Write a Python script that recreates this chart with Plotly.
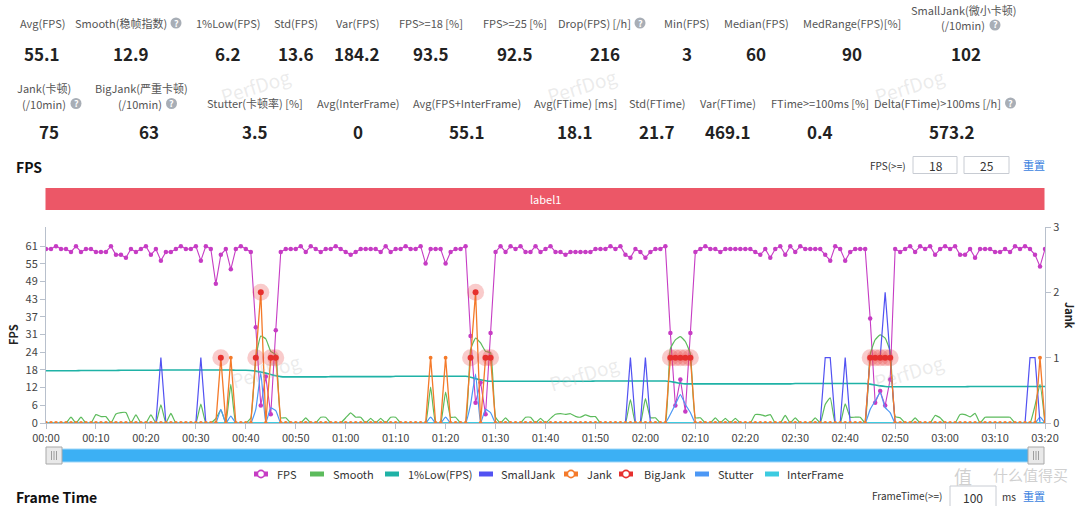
import plotly.graph_objects as go

# ---------------- data ----------------
seconds = list(range(201))
x_tick_vals = [0, 10, 20, 30, 40, 50, 60, 70, 80, 90, 100, 110, 120, 130, 140, 150, 160, 170, 180, 190, 200]
x_tick_labels = ["00:00", "00:10", "00:20", "00:30", "00:40", "00:50", "01:00", "01:10", "01:20", "01:30",
                 "01:40", "01:50", "02:00", "02:10", "02:20", "02:30", "02:40", "02:50", "03:00", "03:10", "03:20"]
fps_tick_vals = [0, 6.1, 12.2, 18.3, 24.4, 30.5, 36.6, 42.7, 48.8, 54.9, 61]
fps_tick_labels = ["0", "6", "12", "18", "24", "31", "37", "43", "49", "55", "61"]
jank_tick_vals = [0, 1, 2, 3]

fps = [60, 60, 61, 60, 60, 59, 61, 59, 60, 60,
       59, 59, 59, 61, 58, 58, 57, 60, 59, 60,
       61, 58, 60, 56, 59, 59, 60, 61, 60, 60,
       61, 56, 61, 60, 48, 58, 60, 53, 60, 61,
       60, 59, 33, 6, 16, 3, 32, 59, 60, 60,
       60, 61, 59, 61, 60, 59, 60, 60, 61, 60,
       59, 58, 59, 60, 60, 60, 60, 59, 61, 59,
       60, 60, 61, 60, 60, 61, 55, 60, 60, 60,
       55, 59, 60, 60, 61, 30, 7, 14, 3, 31,
       59, 61, 59, 61, 60, 61, 59, 59, 61, 59,
       60, 61, 59, 59, 58, 59, 59, 59, 59, 59,
       60, 60, 60, 61, 60, 61, 58, 57, 60, 59,
       57, 59, 60, 60, 61, 31, 6, 15, 4, 31,
       59, 60, 61, 60, 60, 59, 60, 60, 60, 60,
       60, 60, 59, 58, 60, 57, 60, 61, 58, 61,
       59, 61, 60, 60, 60, 60, 58, 56, 61, 60,
       56, 59, 60, 60, 60, 36, 7, 11, 6, 15,
       60, 59, 60, 61, 59, 61, 60, 61, 58, 60,
       61, 60, 61, 58, 58, 60, 57, 60, 60, 60,
       59, 59, 60, 59, 61, 60, 61, 60, 58, 54, 60]

smooth = [0, 0, 0, 0, 0, 2, 0, 2, 0, 0,
          2.9, 2.2, 2.2, 0, 3.1, 3.6, 3.6, 0, 2.8, 0,
          0, 2.8, 0, 6.3, 0, 3.3, 0, 0, 0, 0,
          0, 6.5, 0, 0, 1.5, 4.5, 0, 13.3, 0, 0,
          0, 1.7, 22.5, 30, 29, 24.7, 23.6, 1.8, 1.8, 0,
          0, 0, 1.8, 0, 0, 2, 2, 0, 0, 0,
          1.8, 3.5, 2, 2, 0, 1.6, 0, 1.6, 0, 2,
          2, 0, 0, 0, 0, 0, 0, 12.4, 0, 0,
          10.7, 2, 2, 0, 0, 25.3, 29.3, 27.6, 24.7, 24.2,
          2, 0, 1.8, 0, 0, 0, 2, 2, 0, 1.6,
          0, 1.6, 3, 3.2, 3, 3.2, 2.3, 2, 2.8, 2.2,
          2.2, 0, 0, 0, 0, 0, 0, 8.1, 0, 0,
          8.4, 1.8, 1.8, 0, 0, 25.6, 28.7, 29.8, 28.1, 23.8,
          1.8, 1.8, 0, 0, 1.8, 0, 1.6, 0, 1.6, 0,
          0, 0, 2.9, 2.9, 2.4, 2.9, 0, 0, 2.6, 0,
          1.8, 0, 0, 0, 1.8, 0, 6.4, 8.7, 0, 0,
          6.6, 2, 2, 2, 0, 23.6, 28.7, 30.4, 29.3, 24.7,
          2.2, 1.8, 0, 0, 1.8, 0, 0, 0, 2.6, 1.8,
          0, 0, 0, 2.9, 2.9, 2.1, 3.3, 0, 2, 2,
          2, 2, 2, 2, 0, 0, 0, 0, 6, 13.3, 0]

low1 = [18.0, 18.0, 18.0, 18.0, 18.0, 18.0, 18.0, 18.1, 18.1, 18.1,
        18.1, 18.1, 18.1, 18.1, 18.1, 18.2, 18.2, 18.2, 18.2, 18.2,
        18.2, 18.2, 18.2, 18.3, 18.3, 18.3, 18.3, 18.3, 18.3, 18.3,
        18.3, 18.3, 18.3, 18.3, 18.3, 18.3, 18.3, 18.3, 18.2, 18.2,
        18.2, 18.1, 17.9, 17.6, 17.2, 16.7, 16.3, 16.0, 15.9, 15.9,
        15.9, 15.9, 15.9, 15.9, 15.9, 15.9, 15.9, 16.0, 16.0, 16.0,
        16.0, 16.0, 16.0, 16.0, 16.0, 16.0, 16.0, 16.0, 16.0, 16.0,
        16.1, 16.1, 16.1, 16.1, 16.1, 16.1, 16.1, 16.1, 16.1, 16.1,
        16.1, 16.1, 16.1, 16.1, 16.1, 15.8, 15.3, 14.9, 14.6, 14.4,
        14.4, 14.4, 14.4, 14.4, 14.4, 14.4, 14.4, 14.4, 14.4, 14.4,
        14.4, 14.4, 14.4, 14.4, 14.4, 14.4, 14.4, 14.4, 14.4, 14.4,
        14.5, 14.5, 14.5, 14.5, 14.5, 14.5, 14.5, 14.5, 14.5, 14.5,
        14.5, 14.5, 14.5, 14.5, 14.5, 14.3, 14.0, 13.7, 13.5, 13.5,
        13.5, 13.5, 13.5, 13.5, 13.5, 13.5, 13.5, 13.5, 13.5, 13.5,
        13.5, 13.5, 13.5, 13.5, 13.5, 13.5, 13.5, 13.5, 13.5, 13.5,
        13.6, 13.6, 13.6, 13.6, 13.6, 13.6, 13.6, 13.6, 13.6, 13.6,
        13.6, 13.6, 13.6, 13.6, 13.6, 13.4, 13.1, 12.8, 12.6, 12.5,
        12.5, 12.5, 12.5, 12.5, 12.5, 12.5, 12.5, 12.5, 12.5, 12.5,
        12.5, 12.5, 12.5, 12.5, 12.5, 12.6, 12.6, 12.6, 12.6, 12.6,
        12.6, 12.6, 12.6, 12.6, 12.6, 12.6, 12.6, 12.6, 12.6, 12.6, 12.6]

# sparse series: second -> value (all other seconds are 0)
small_jank_events = {23: 1, 31: 1, 117: 1, 120: 1, 156: 1, 157: 1, 160: 1,
                     165: 1, 166: 1, 167: 1, 168: 2, 169: 1, 197: 1, 198: 1}
jank_events = {35: 1, 37: 1, 42: 1, 43: 2, 45: 1, 46: 1, 77: 1, 80: 1,
               85: 1, 86: 2, 88: 1, 89: 1, 125: 1, 126: 1, 127: 1, 128: 1, 129: 1,
               165: 1, 166: 1, 167: 1, 168: 1, 169: 1, 199: 1}
big_jank_t = [35, 42, 43, 45, 46, 85, 86, 88, 89, 125, 126, 127, 128, 129, 165, 166, 167, 168, 169]
big_jank_v = [1, 1, 2, 1, 1, 1, 2, 1, 1, 1, 1, 1, 1, 1, 1, 1, 1, 1, 1]
stutter_events = {35: 4.7, 37: 2.4, 42: 4.7, 43: 17.3, 45: 5.2, 46: 4.3, 77: 2, 80: 2,
                  85: 6.4, 86: 16.9, 88: 4.7, 89: 3.6, 125: 3, 126: 6.4, 127: 9.8, 128: 6.4, 129: 3.6,
                  165: 4.7, 166: 7.6, 167: 10.5, 168: 5.3, 169: 3.6, 199: 2}
interframe_value = 0

small_jank = [small_jank_events.get(s, 0) for s in seconds]
jank = [jank_events.get(s, 0) for s in seconds]
stutter = [stutter_events.get(s, 0) for s in seconds]
interframe = [interframe_value for s in seconds]

# header stats
row1 = [("Avg(FPS)", "55.1"), ("Smooth(稳帧指数)", "12.9"), ("1%Low(FPS)", "6.2"), ("Std(FPS)", "13.6"),
        ("Var(FPS)", "184.2"), ("FPS>=18 [%]", "93.5"), ("FPS>=25 [%]", "92.5"), ("Drop(FPS) [/h]", "216"),
        ("Min(FPS)", "3"), ("Median(FPS)", "60"), ("MedRange(FPS)[%]", "90"), ("SmallJank(微小卡顿)", "102")]
row2 = [("Jank(卡顿)", "75"), ("BigJank(严重卡顿)", "63"), ("Stutter(卡顿率) [%]", "3.5"),
        ("Avg(InterFrame)", "0"), ("Avg(FPS+InterFrame)", "55.1"), ("Avg(FTime) [ms]", "18.1"),
        ("Std(FTime)", "21.7"), ("Var(FTime)", "469.1"), ("FTime>=100ms [%]", "0.4"),
        ("Delta(FTime)>100ms [/h]", "573.2")]
legend_names = ["FPS", "Smooth", "1%Low(FPS)", "SmallJank", "Jank", "BigJank", "Stutter", "InterFrame"]

# ---------------- style ----------------
C_FPS = "#c63cc4"
C_SMOOTH = "#5cbb5c"
C_LOW = "#1fb2a6"
C_SJ = "#5252f2"
C_JANK = "#f47a2a"
C_BIG = "#e6302e"
C_STUT = "#4c98f5"
C_IF = "#3ccbe0"
FONT = "Noto Sans CJK SC, Noto Sans, sans-serif"
W, H = 1080, 506
L, R, T, B = 46, 35, 227, 83
PW, PH = W - L - R, H - T - B


def px(x):
    return (x - L) / PW


def py(y):
    return (H - B - y) / PH


fig = go.Figure()
fig.add_trace(go.Scatter(x=seconds, y=fps, mode="lines+markers", name="FPS",
                         line=dict(color=C_FPS, width=1.1), marker=dict(size=4.5, color=C_FPS)))
fig.add_trace(go.Scatter(x=seconds, y=smooth, mode="lines", name="Smooth",
                         line=dict(color=C_SMOOTH, width=1.2, shape="spline", smoothing=0.4)))
fig.add_trace(go.Scatter(x=seconds, y=low1, mode="lines", name="1%Low(FPS)",
                         line=dict(color=C_LOW, width=1.6, shape="spline", smoothing=0.6)))
fig.add_trace(go.Scatter(x=seconds, y=stutter, mode="lines", name="Stutter",
                         line=dict(color=C_STUT, width=1.2, shape="spline", smoothing=0.4)))
fig.add_trace(go.Scatter(x=seconds, y=small_jank, mode="lines", name="SmallJank", yaxis="y2",
                         line=dict(color=C_SJ, width=1.2)))
fig.add_trace(go.Scatter(x=seconds, y=jank, mode="lines", name="Jank", yaxis="y2",
                         line=dict(color=C_JANK, width=1.3)))
fig.add_trace(go.Scatter(x=seconds, y=interframe, mode="lines", name="InterFrame", yaxis="y2",
                         line=dict(color=C_IF, width=1.8)))
fig.add_trace(go.Scatter(x=seconds, y=jank, mode="markers", name="Jank pts", yaxis="y2",
                         marker=dict(size=3.8, color=C_JANK)))
fig.add_trace(go.Scatter(x=big_jank_t, y=big_jank_v, mode="markers", name="BigJank halo", yaxis="y2",
                         marker=dict(size=17, color="rgba(232,70,70,0.28)")))
fig.add_trace(go.Scatter(x=big_jank_t, y=big_jank_v, mode="markers", name="BigJank", yaxis="y2",
                         marker=dict(size=6, color=C_BIG)))

axis_line = "#b8c0cc"
fig.update_layout(
    width=W, height=H, showlegend=False,
    margin=dict(l=L, r=R, t=T, b=B, autoexpand=False),
    paper_bgcolor="white", plot_bgcolor="white",
    font=dict(family=FONT, size=11, color="#333"),
    xaxis=dict(range=[0, 200], tickmode="array", tickvals=x_tick_vals, ticktext=x_tick_labels,
               ticks="outside", ticklen=5, tickcolor=axis_line, showline=True, linecolor=axis_line,
               showgrid=False, zeroline=False, tickfont=dict(size=11, color="#444")),
    yaxis=dict(range=[0, 67.6], tickmode="array", tickvals=fps_tick_vals, ticktext=fps_tick_labels,
               ticks="outside", ticklen=5, tickcolor=axis_line, showline=True, linecolor=axis_line,
               showgrid=False, zeroline=False, tickfont=dict(size=11, color="#444")),
    yaxis2=dict(range=[0, 3], overlaying="y", side="right", tickmode="array", tickvals=jank_tick_vals,
                ticks="outside", ticklen=5, tickcolor=axis_line, showline=True, linecolor=axis_line,
                showgrid=False, zeroline=False, tickfont=dict(size=11, color="#444")),
)

ann = []
shapes = []


def text(x, y, s, size=11, color="#444", xanchor="center", bold=False, angle=0):
    ann.append(dict(x=px(x), y=py(y), xref="paper", yref="paper", text=("<b>%s</b>" % s) if bold else s,
                    showarrow=False, xanchor=xanchor, yanchor="middle", textangle=angle,
                    font=dict(size=size, color=color, family=FONT)))


def rect(x0, y0, x1, y1, fill, line=None, lw=1):
    shapes.append(dict(type="rect", xref="paper", yref="paper", x0=px(x0), x1=px(x1), y0=py(y1), y1=py(y0),
                       fillcolor=fill, line=dict(color=line or fill, width=lw if line else 0), layer="above"))


def circle(cx, cy, r, fill, line=None, lw=1):
    shapes.append(dict(type="circle", xref="paper", yref="paper", x0=px(cx - r), x1=px(cx + r),
                       y0=py(cy + r), y1=py(cy - r), fillcolor=fill,
                       line=dict(color=line or fill, width=lw if line else 0), layer="above"))


def help_icon(cx, cy):
    circle(cx, cy, 5.5, "#a8aeb6")
    text(cx, cy, "?", size=9, color="white", bold=True)


LBL = "#555"
VAL = "#222"
# header row 1
row1_x = [42, 131, 228, 296, 357, 431, 515, 605, 687, 756, 852, 966]
for (lab, val), xc in zip(row1, row1_x):
    if lab.startswith("Smooth"):
        text(169, 23, lab, color=LBL, xanchor="right")
        help_icon(176, 23)
    elif lab.startswith("Drop"):
        text(633, 23, lab, color=LBL, xanchor="right")
        help_icon(640, 23)
    elif lab.startswith("SmallJank"):
        text(963, 9.5, lab, color=LBL)
        text(987, 25, "(/10min)", color=LBL, xanchor="right")
        help_icon(995, 25)
    else:
        text(xc, 23, lab, color=LBL)
    text(xc, 53, val, size=17, color=VAL, bold=True)

# header row 2
row2_x = [49, 149, 255, 358, 467, 575, 657, 728, 820, 952]
for (lab, val), xc in zip(row2, row2_x):
    if lab.startswith("Jank"):
        text(44, 87.5, lab, color=LBL)
        text(68, 103.5, "(/10min)", color=LBL, xanchor="right")
        help_icon(76, 103.5)
    elif lab.startswith("BigJank"):
        text(141, 87.5, lab, color=LBL)
        text(164, 103.5, "(/10min)", color=LBL, xanchor="right")
        help_icon(171.5, 103.5)
    elif lab.startswith("Delta"):
        text(1003, 103, lab, color=LBL, xanchor="right")
        help_icon(1010.5, 103)
    else:
        text(xc, 103, lab, color=LBL)
    text(xc, 131, val, size=17, color=VAL, bold=True)

# watermarks
for (wx, wy) in [(255, 86), (581, 85), (909, 86), (265, 370), (583, 373), (908, 371)]:
    text(wx, wy, "PerfDog", size=19, color="rgba(185,185,185,0.28)", angle=-17)

# FPS section header
text(14, 167, "FPS", size=14, color="#111", xanchor="left", bold=True)
text(888, 165, "FPS(>=)", size=10, color="#333")
rect(913, 156.5, 957, 173.5, "white", "#c8ccd3")
text(936, 165, "18", size=12, color="#333")
rect(964, 156.5, 1009, 173.5, "white", "#c8ccd3")
text(987, 165, "25", size=12, color="#333")
text(1034, 165, "重置", size=11, color="#3b7fe0")

# label bar
rect(45.5, 188, 1044.5, 210, "#ec5767")
text(545, 199, "label1", size=11, color="white")

# axis titles
text(13, 335, "FPS", size=11, color="#222", bold=True, angle=-90)
text(1070, 315, "Jank", size=11, color="#222", bold=True, angle=90)

# slider
rect(47, 449, 1043, 462, "#3cb0f4", "#9fd6f7")
for hx in (54, 1036):
    rect(hx - 8, 447, hx + 8, 464, "#e9e9e9", "#a9a9a9")
    for dx in (-2.5, 0, 2.5):
        shapes.append(dict(type="line", xref="paper", yref="paper", x0=px(hx + dx), x1=px(hx + dx),
                           y0=py(451), y1=py(460), line=dict(color="#8a8a8a", width=0.8), layer="above"))

# legend
legend_colors = [C_FPS, C_SMOOTH, C_LOW, C_SJ, C_JANK, C_BIG, C_STUT, C_IF]
legend_circle = [True, False, False, False, True, True, False, False]
legend_icon_x = [261, 317, 392, 486, 571, 626, 702, 772]
legend_text_x = [275, 331, 406, 499, 585, 642, 716, 785]
for name, col, hc, ic, tx in zip(legend_names, legend_colors, legend_circle, legend_icon_x, legend_text_x):
    rect(ic - 7, 471.5, ic + 7, 476.5, col)
    if hc:
        circle(ic, 474, 3.6, "white", col, 1.6)
    text(tx, 474, name, size=11, color="#333", xanchor="left")

# Frame Time header
text(14, 497, "Frame Time", size=14, color="#111", xanchor="left", bold=True)
text(907, 495, "FrameTime(>=)", size=10, color="#333")
rect(950, 486, 996, 508, "white", "#c8ccd3")
text(973, 497, "100", size=12, color="#333")
text(1009, 496, "ms", size=10, color="#333")
text(1034, 496, "重置", size=11, color="#3b7fe0")

# site watermark
text(963, 476, "值", size=18, color="rgba(200,200,200,0.85)")
text(1030, 474, "什么值得买", size=15, color="rgba(200,200,200,0.85)")

fig.update_layout(annotations=ann, shapes=shapes)
fig.write_html("out.html", config={"displayModeBar": False})
